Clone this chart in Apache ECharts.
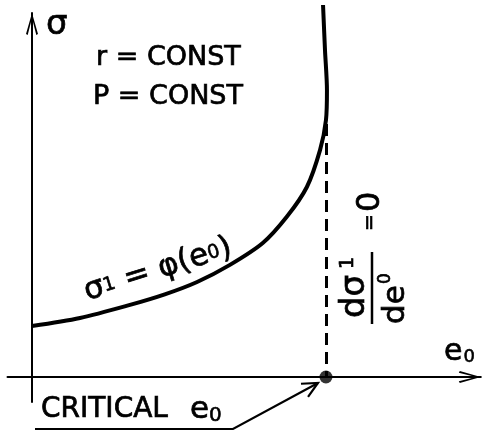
<!DOCTYPE html>
<html>
<head>
<meta charset="utf-8">
<script src="https://cdn.jsdelivr.net/npm/echarts@6/dist/echarts.min.js"></script>
<style>
  html, body { margin: 0; padding: 0; background: #fff; }
  #chart { width: 483px; height: 432px; }
</style>
</head>
<body>
<div id="chart"></div>
<script>
// Loading curve sigma1 = phi(e0): strain e0 (arbitrary units) and stress sigma1
const strain = [0, 0.98, 2.0, 2.71, 3.37, 4.04, 4.71, 5.2, 5.61, 5.88, 6.0, 6.02, 5.98, 5.94];
const stress = [1.40, 1.62, 1.98, 2.27, 2.61, 3.08, 3.68, 4.40, 5.22, 6.24, 7.06, 7.88, 8.98, 10.22];

// critical strain, where d(sigma1)/d(e0) = 0, and the height of its marker
const criticalStrain = 6;
const markerTop = 6.95;

// axis extents
const xRange = [-0.5, 9.16];
const yRange = [-0.69, 10];

const FONT = '"DejaVu Sans", sans-serif';
const INK = '#000';

// open chevron used as arrow head on both axes (points up, 12 x 22 box)
const CHEVRON = 'path://M6,0 L12,21 L10.3,22 L6,5 L1.7,22 L0,21 Z';

function axis(range) {
  return {
    type: 'value',
    min: range[0],
    max: range[1],
    axisLine: {
      onZero: true,
      lineStyle: { color: INK, width: 2 },
      symbol: ['none', CHEVRON],
      symbolSize: [12, 22],
      symbolOffset: [0, -11]
    },
    axisTick: { show: false },
    axisLabel: { show: false },
    splitLine: { show: false }
  };
}

const chart = echarts.init(document.getElementById('chart'), null, { renderer: 'canvas' });

chart.setOption({
  animation: false,
  backgroundColor: '#fff',
  grid: { left: 7.5, top: 13, width: 473.3, height: 389.1, outerBoundsMode: 'none' },
  xAxis: axis(xRange),
  yAxis: axis(yRange),
  series: [
    {
      type: 'line',
      data: strain.map((e, i) => [e, stress[i]]),
      smooth: 0.3,
      symbol: 'none',
      clip: false,
      lineStyle: { color: INK, width: 4 },
      z: 3,
      markLine: {
        silent: true,
        symbol: 'none',
        label: { show: false },
        lineStyle: { color: INK, width: 3, type: [12, 7] },
        data: [[{ coord: [criticalStrain, markerTop] }, { coord: [criticalStrain, 0] }]]
      }
    },
    {
      type: 'scatter',
      data: [[criticalStrain, 0]],
      symbol: 'circle',
      symbolSize: 13,
      itemStyle: { color: INK },
      z: 5
    }
  ]
});

// annotations
function label(x, y, text, size, extra) {
  return Object.assign({
    type: 'text',
    x: x,
    y: y,
    silent: true,
    style: {
      text: text,
      font: size + 'px ' + FONT,
      fill: INK,
      stroke: INK,
      lineWidth: 0.7,
      textAlign: 'left',
      textVerticalAlign: 'middle'
    }
  }, extra || {});
}

function richStyle(main, sub, subPad) {
  return {
    a: { font: main + 'px ' + FONT, fill: INK, stroke: INK, lineWidth: 0.7 },
    s: { font: sub + 'px ' + FONT, fill: INK, stroke: INK, lineWidth: 0.6, padding: subPad }
  };
}

const dot = chart.convertToPixel({ gridIndex: 0 }, [criticalStrain, 0]);
const tip = [dot[0] - 8, dot[1] + 6];
const elbow = [233, 429];
const ang = Math.atan2(tip[1] - elbow[1], tip[0] - elbow[0]);
const headLen = 17, headSpread = 0.45;
const head = [
  [tip[0] - headLen * Math.cos(ang - headSpread), tip[1] - headLen * Math.sin(ang - headSpread)],
  tip,
  [tip[0] - headLen * Math.cos(ang + headSpread), tip[1] - headLen * Math.sin(ang + headSpread)]
];

const graphics = [
  // axis names
  label(46, 25, 'σ', 34),
  {
    type: 'text', x: 444, y: 352, silent: true,
    style: {
      text: '{a|e}{s|0}', textAlign: 'left', textVerticalAlign: 'middle', fill: INK,
      rich: richStyle(30, 18, [10, 0, 0, 1])
    }
  },
  // conditions
  label(96, 57.5, 'r = CONST', 27),
  label(93, 97, 'P = CONST', 27),
  // curve name along the curve
  {
    type: 'text', x: 158, y: 270, rotation: 0.3, silent: true,
    style: {
      text: '{a|σ}{s|1}{a| = φ(e}{s|0}{a|)}', textAlign: 'center', textVerticalAlign: 'middle', fill: INK,
      rich: richStyle(31, 19, [0, 0, 0, 0])
    }
  },
  // d(sigma1)/d(e0) = 0, written upwards beside the marker
  {
    type: 'group', x: 372, y: 288, rotation: Math.PI / 2, silent: true,
    children: [
      { type: 'line', shape: { x1: -36, y1: 0, x2: 36, y2: 0 }, style: { stroke: INK, lineWidth: 2.5 } },
      label(-30, -17, 'dσ', 34),
      label(19, -24, '1', 19),
      label(-36, 24, 'de', 31),
      label(4, 14, '0', 17),
      label(57, -2, '=', 20),
      label(76, -1, '0', 32)
    ]
  },
  // critical strain callout
  {
    type: 'text', x: 41, y: 410, silent: true,
    style: {
      text: '{a|CRITICAL}{e|e}{s|0}', textAlign: 'left', textVerticalAlign: 'middle', fill: INK,
      rich: Object.assign(richStyle(28, 20, [12, 0, 0, 0]), {
        e: { font: '31px ' + FONT, fill: INK, stroke: INK, lineWidth: 0.7, padding: [0, 0, 0, 22] }
      })
    }
  },
  {
    type: 'polyline', silent: true,
    shape: { points: [[35, 429], elbow, tip] },
    style: { stroke: INK, lineWidth: 2.2, fill: null }
  },
  {
    type: 'polyline', silent: true,
    shape: { points: head },
    style: { stroke: INK, lineWidth: 2.2, fill: null }
  }
];

chart.setOption({ graphic: graphics });
</script>
</body>
</html>
